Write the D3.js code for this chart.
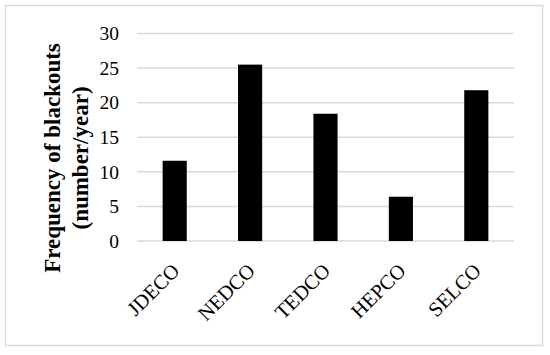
<!DOCTYPE html>
<html><head><meta charset="utf-8">
<script src="https://cdn.jsdelivr.net/npm/d3@7"></script>
<style>body{margin:0;background:#fff}svg{display:block}</style>
</head><body>
<script>
const categories = ["JDECO","NEDCO","TEDCO","HEPCO","SELCO"];
const values = [11.6, 25.5, 18.4, 6.4, 21.8];
const yTicks = [0,5,10,15,20,25,30];

(function(){
const W=550,H=355;
const svg=d3.select("body").append("svg").attr("width",W).attr("height",H);
svg.append("rect").attr("x",5.5).attr("y",5.5).attr("width",537).attr("height",340)
  .attr("fill","#fff").attr("stroke","#d9d9d9").attr("stroke-width",1.5);

const pl=137,pr=514,pt=33.5,pb=241;
const x=d3.scaleBand().domain(categories).range([pl,pr]).paddingInner(0.68).paddingOuter(0.34);
const y=d3.scaleLinear().domain([0,30]).range([pb,pt]);

const font="'Liberation Serif','Times New Roman',serif";
svg.append("g").selectAll("line").data(yTicks).join("line")
  .attr("x1",pl).attr("x2",pr).attr("y1",d=>y(d)).attr("y2",d=>y(d))
  .attr("stroke","#d9d9d9").attr("stroke-width",1.5);

const yAxis=svg.append("g").attr("transform",`translate(${pl},0)`)
  .call(d3.axisLeft(y).tickValues(yTicks).tickSize(0).tickPadding(18));
yAxis.select(".domain").remove();
yAxis.selectAll("text").attr("font-family",font).attr("font-size",19.5).attr("fill","#000");

svg.append("g").selectAll("rect").data(values).join("rect")
  .attr("x",(d,i)=>x(categories[i])).attr("width",x.bandwidth())
  .attr("y",d=>y(d)).attr("height",d=>y(0)-y(d)).attr("fill","#000");

const xAxis=svg.append("g").attr("transform",`translate(0,${pb})`)
  .call(d3.axisBottom(x).tickSize(0).tickPadding(0));
xAxis.select(".domain").remove();
xAxis.selectAll("text").attr("font-family",font).attr("font-size",20.5).attr("fill","#000")
  .attr("text-anchor","end").attr("dy",null).attr("y",0)
  .attr("transform","translate(6,31) rotate(-45)");

const title=svg.append("text").attr("transform",`translate(60,158) rotate(-90)`)
  .attr("text-anchor","middle").attr("font-family",font).attr("font-weight","bold").attr("font-size",23);
title.append("tspan").attr("x",0).attr("y",0).text("Frequency of blackouts");
title.append("tspan").attr("x",0).attr("y",28).text("(number/year)");
})();
</script>
</body></html>
